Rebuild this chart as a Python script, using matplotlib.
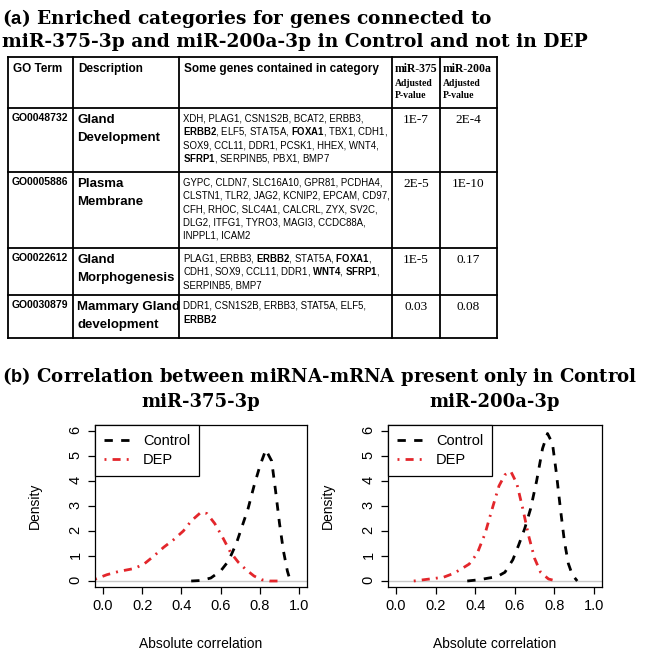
import re
import matplotlib
matplotlib.use('Agg')
import matplotlib.pyplot as plt
from matplotlib.ticker import FormatStrFormatter

plt.rcParams['font.family'] = 'Liberation Sans'
plt.rcParams['mathtext.fontset'] = 'custom'
plt.rcParams['mathtext.rm'] = 'Liberation Sans'
plt.rcParams['mathtext.bf'] = 'Liberation Sans:bold'

# ---- table data ----
go_terms = ['GO0048732', 'GO0005886', 'GO0022612', 'GO0030879']
descriptions = [['Gland', 'Development'],
                ['Plasma', 'Membrane'],
                ['Gland', 'Morphogenesis'],
                ['Mammary Gland', 'development']]
gene_lines = [
    ['XDH, PLAG1, CSN1S2B, BCAT2, ERBB3,',
     'ERBB2, ELF5, STAT5A, FOXA1, TBX1, CDH1,',
     'SOX9, CCL11, DDR1, PCSK1, HHEX, WNT4,',
     'SFRP1, SERPINB5, PBX1, BMP7'],
    ['GYPC, CLDN7, SLC16A10, GPR81, PCDHA4,',
     'CLSTN1, TLR2, JAG2, KCNIP2, EPCAM, CD97,',
     'CFH, RHOC, SLC4A1, CALCRL, ZYX, SV2C,',
     'DLG2, ITFG1, TYRO3, MAGI3, CCDC88A,',
     'INPPL1, ICAM2'],
    ['PLAG1, ERBB3, ERBB2, STAT5A, FOXA1,',
     'CDH1, SOX9, CCL11, DDR1, WNT4, SFRP1,',
     'SERPINB5, BMP7'],
    ['DDR1, CSN1S2B, ERBB3, STAT5A, ELF5,',
     'ERBB2'],
]
bold_genes = [['ERBB2', 'FOXA1', 'SFRP1'], [],
              ['ERBB2', 'FOXA1', 'WNT4', 'SFRP1'], ['ERBB2']]
p_mir375 = ['1E-7', '2E-5', '1E-5', '0.03']
p_mir200a = ['2E-4', '1E-10', '0.17', '0.08']

# ---- density curves ----
l_ctrl_x = [0.45, 0.50, 0.55, 0.60, 0.64, 0.68, 0.71, 0.74, 0.77, 0.80, 0.83,
            0.86, 0.88, 0.90, 0.92, 0.94, 0.955]
l_ctrl_y = [0.0, 0.02, 0.12, 0.40, 0.80, 1.5, 2.2, 2.9, 3.8, 4.6, 5.25,
            4.8, 3.6, 2.3, 1.2, 0.4, 0.0]
l_dep_x = [-0.04, 0.02, 0.08, 0.16, 0.21, 0.26, 0.31, 0.36, 0.41, 0.45, 0.50,
           0.53, 0.57, 0.61, 0.65, 0.69, 0.73, 0.77, 0.81, 0.85, 0.89]
l_dep_y = [0.07, 0.25, 0.38, 0.50, 0.68, 1.0, 1.35, 1.65, 2.0, 2.4, 2.75,
           2.7, 2.3, 1.75, 1.15, 0.75, 0.45, 0.2, 0.05, 0.0, 0.0]
r_ctrl_x = [0.36, 0.42, 0.47, 0.51, 0.55, 0.59, 0.62, 0.65, 0.68, 0.71, 0.74,
            0.765, 0.79, 0.81, 0.83, 0.85, 0.87, 0.89, 0.915]
r_ctrl_y = [0.0, 0.05, 0.12, 0.17, 0.35, 0.85, 1.45, 2.1, 2.9, 4.0, 5.3,
            5.9, 5.5, 4.3, 2.9, 1.6, 0.7, 0.25, 0.0]
r_dep_x = [0.09, 0.14, 0.19, 0.24, 0.29, 0.33, 0.37, 0.41, 0.45, 0.49, 0.52,
           0.55, 0.58, 0.61, 0.64, 0.67, 0.70, 0.73, 0.77, 0.80, 0.82]
r_dep_y = [0.0, 0.05, 0.1, 0.15, 0.3, 0.48, 0.68, 1.1, 1.9, 3.0, 3.8,
           4.25, 4.38, 3.9, 2.9, 1.8, 0.9, 0.35, 0.08, 0.02, 0.0]

SERIF_T = 'DejaVu Serif'
SERIF_TAB = 'Liberation Serif'
RED = '#E3262B'

W, H = 649, 653
fig = plt.figure(figsize=(W / 100, H / 100), dpi=100)
bg = fig.add_axes([0, 0, 1, 1])
bg.set_xlim(0, W)
bg.set_ylim(H, 0)
bg.axis('off')

# titles
bg.text(2, 18, r'($\mathbf{a}$) Enriched categories for genes connected to',
        family=SERIF_T, weight='bold', size=13.4, va='center')
bg.text(2, 42, 'miR-375-3p and miR-200a-3p in Control and not in DEP',
        family=SERIF_T, weight='bold', size=13.4, va='center')
bg.text(2, 376, r'($\mathbf{b}$) Correlation between miRNA-mRNA present only in Control',
        family=SERIF_T, weight='bold', size=13.1, va='center')

# table grid
col_x = [8, 73, 179, 392, 440, 497]
row_y = [57, 108, 172, 248, 295, 338]
for y in row_y:
    bg.plot([col_x[0], col_x[-1]], [y, y], color='black', lw=1.3)
for x in col_x:
    bg.plot([x, x], [row_y[0], row_y[-1]], color='black', lw=1.3)

# header
bg.text(col_x[0] + 5, 69, 'GO Term', weight='bold', size=8.5, va='center')
bg.text(col_x[1] + 5, 69, 'Description', weight='bold', size=8.5, va='center')
bg.text(col_x[2] + 5, 69, 'Some genes contained in category', weight='bold',
        size=8.5, va='center')
for cx, name in [(col_x[3], 'miR-375'), (col_x[4], 'miR-200a')]:
    bg.text(cx + 3, 69, name, family=SERIF_TAB, weight='bold', size=8.5, va='center')
    bg.text(cx + 3, 83, 'Adjusted', family=SERIF_TAB, weight='bold', size=7, va='center')
    bg.text(cx + 3, 96, 'P-value', family=SERIF_TAB, weight='bold', size=7, va='center')

# rows
for i in range(len(go_terms)):
    top = row_y[i + 1]
    bg.text(col_x[0] + 4, top + 10, go_terms[i], weight='bold', size=7.5, va='center')
    for j, d in enumerate(descriptions[i]):
        bg.text(col_x[1] + 4, top + 12 + 18 * j, d, weight='bold', size=9.5, va='center')
    for j, line in enumerate(gene_lines[i]):
        for g in bold_genes[i]:
            line = re.sub(r'\b%s\b' % g, r'$\\mathbf{%s}$' % g, line)
        bg.text(col_x[2] + 4, top + 10.5 + 13.3 * j, line, size=6.9, va='center')
    bg.text((col_x[3] + col_x[4]) / 2, top + 12, p_mir375[i], family=SERIF_TAB,
            size=9.5, ha='center', va='center')
    bg.text((col_x[4] + col_x[5]) / 2, top + 12, p_mir200a[i], family=SERIF_TAB,
            size=9.5, ha='center', va='center')


# density panels
def density_panel(rect, title, cx, cy, dx, dy):
    ax = fig.add_axes(rect)
    ax.axhline(0, color='#C8C8C8', lw=1)
    ax.plot(cx, cy, color='black', lw=2, dashes=(3, 3), label='Control')
    ax.plot(dx, dy, color=RED, lw=2, dashes=(0.7, 2.2, 2.9, 2.2), label='DEP')
    ax.set_xlim(-0.04, 1.04)
    ax.set_ylim(-0.24, 6.24)
    ax.set_xticks([0, 0.2, 0.4, 0.6, 0.8, 1.0])
    ax.xaxis.set_major_formatter(FormatStrFormatter('%.1f'))
    ax.set_yticks(range(7))
    ax.tick_params(direction='out', length=5, width=0.9, labelsize=10.5, pad=4)
    ax.tick_params(axis='y', labelrotation=90)
    for s in ax.spines.values():
        s.set_linewidth(0.9)
    ax.set_xlabel('Absolute correlation', size=10)
    ax.set_ylabel('Density', size=10)
    ax.xaxis.set_label_coords(0.5, -0.31)
    ax.yaxis.set_label_coords(-0.25, 0.5)
    ax.set_title(title, family=SERIF_T, weight='bold', size=13, pad=13)
    leg = ax.legend(loc='upper left', borderaxespad=0, fancybox=False,
                    edgecolor='black', framealpha=1, fontsize=10.5,
                    handlelength=1.9, handletextpad=0.8, labelspacing=0.35,
                    borderpad=0.6)
    leg.get_frame().set_linewidth(0.9)
    return ax


density_panel([95 / W, 1 - 587 / H, 212 / W, 162 / H], 'miR-375-3p',
              l_ctrl_x, l_ctrl_y, l_dep_x, l_dep_y)
density_panel([388 / W, 1 - 587 / H, 214 / W, 162 / H], 'miR-200a-3p',
              r_ctrl_x, r_ctrl_y, r_dep_x, r_dep_y)

fig.savefig('out.png', dpi=100)
